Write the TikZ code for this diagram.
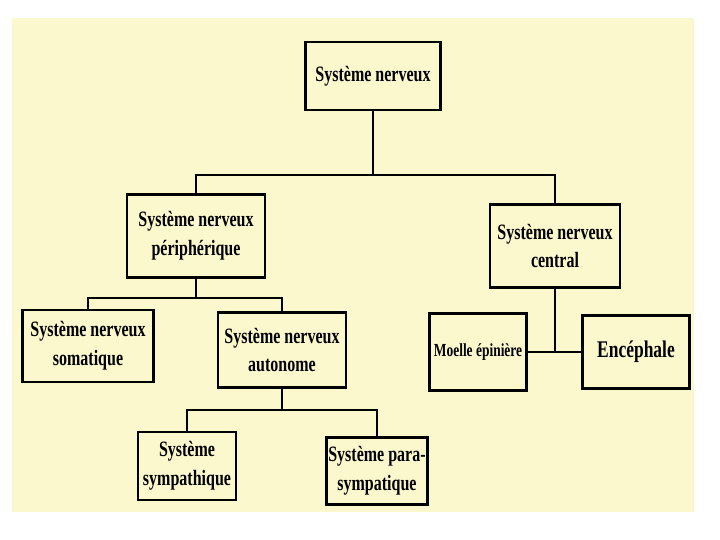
\documentclass[tikz,border=0pt]{standalone}
\usepackage{fontspec}
\setmainfont{Liberation Serif}[FakeStretch=0.73]
\usepackage{tikz}
\usepackage{xcolor}
\definecolor{paper}{RGB}{252,248,206}

\tikzset{
  boite/.style={draw, line width=2.6bp, fill=paper, align=center, inner sep=2pt, font=\bfseries\fontsize{22}{29}\selectfont},
  lien/.style={line width=2.8bp}
}

\begin{document}
\begin{tikzpicture}[x=1bp, y=-1bp]

        \useasboundingbox (0,0) rectangle (720,540);
        \fill[white] (0,0) rectangle (720,540);
        \fill[paper] (12,18) rectangle (694,512);

        \node[boite, minimum width=135bp, minimum height=68bp] (sn) at (373,76) {Système nerveux};

        \node[boite, minimum width=138bp, minimum height=83bp] (snp) at (196,236) {Système nerveux\\périphérique};
        \node[boite, minimum width=130bp, minimum height=83bp] (snc) at (555,246) {Système nerveux\\central};

        \node[boite, minimum width=131bp, minimum height=72bp] (soma) at (88,346) {Système nerveux\\somatique};
        \node[boite, minimum width=128bp, minimum height=75bp] (auto) at (282,350) {Système nerveux\\autonome};

        \node[boite, minimum width=98bp, minimum height=68bp] (sympa) at (187,466) {Système\\sympathique};
        \node[boite, minimum width=99bp, minimum height=67bp] (para) at (377,471) {Système para-\\sympatique};

        \node[boite, minimum width=97bp, minimum height=77bp, font=\bfseries\fontsize{18.5}{21}\selectfont] (moelle) at (478,352) {Moelle épinière};
        \node[boite, minimum width=107bp, minimum height=73bp, font=\bfseries\fontsize{24}{27}\selectfont] (ence) at (636,352) {Encéphale};

        % branches
        \coordinate (j1) at (373,175);
        \draw[lien] (sn.south) -- (j1);
        \draw[lien] (snp.north) |- (j1) -| (snc.north);

        \coordinate (j2) at (196,298);
        \draw[lien] (snp.south) -- (j2);
        \draw[lien] (soma.north) |- (j2) -| (auto.north);

        \coordinate (j3) at (282,410);
        \draw[lien] (auto.south) -- (j3);
        \draw[lien] (sympa.north) |- (j3) -| (para.north);

        \draw[lien] (moelle.east) -- (ence.west);
        \draw[lien] (snc.south) -- (snc.south |- moelle.east);

    \end{tikzpicture}
\end{document}
